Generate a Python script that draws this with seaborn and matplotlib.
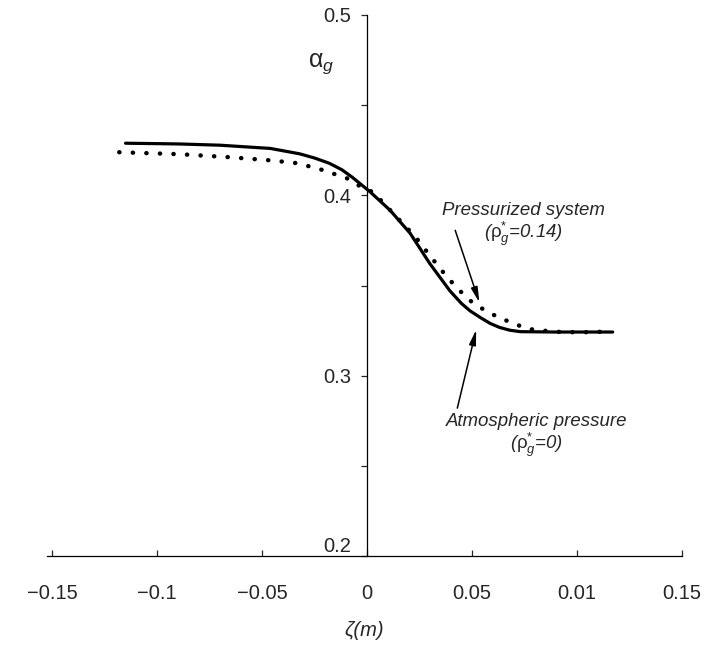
'''
Void fraction profile across the interface, atmospheric vs pressurized system.
'''

import numpy as np
import seaborn as sns
import matplotlib.pyplot as plt

# --- solid curve: atmospheric pressure
zeta_atm = [-0.115, -0.09, -0.07, -0.046, -0.032, -0.025, -0.018, -0.012, -0.007, 0.0014, 0.011,
            0.0205, 0.03, 0.0395, 0.045, 0.049, 0.054, 0.0586, 0.063, 0.068, 0.073, 0.09, 0.105, 0.117]
alpha_atm = [0.4289, 0.4285, 0.4278, 0.426, 0.423, 0.4207, 0.4178, 0.4142, 0.410, 0.402, 0.3917,
             0.379, 0.362, 0.347, 0.340, 0.336, 0.3322, 0.329, 0.3268, 0.3252, 0.3244, 0.3242, 0.3242, 0.3242]

# --- dotted curve: pressurized system
zeta_prs = [-0.118, -0.089, -0.065, -0.046, -0.033, -0.021, -0.0095, -0.0024, 0.003, 0.0157,
            0.023, 0.031, 0.0386, 0.0476, 0.052, 0.063, 0.07, 0.076, 0.0886, 0.101, 0.116]
alpha_prs = [0.4239, 0.4228, 0.4211, 0.4194, 0.4178, 0.414, 0.4094, 0.4044, 0.4017, 0.386,
             0.377, 0.365, 0.354, 0.343, 0.339, 0.332, 0.329, 0.326, 0.3244, 0.324, 0.3245]

x_ticks = [-0.15, -0.1, -0.05, 0, 0.05, 0.1, 0.15]
x_labels = ['\u22120.15', '\u22120.1', '\u22120.05', '0', '0.05', '0.01', '0.15']
y_ticks = [0.2, 0.25, 0.3, 0.35, 0.4, 0.45, 0.5]
y_labels = ['0.2', '', '0.3', '', '0.4', '', '0.5']

sns.set_style('white')
plt.rcParams['font.family'] = ['Liberation Sans', 'DejaVu Sans']
plt.rcParams['mathtext.fontset'] = 'custom'
plt.rcParams['mathtext.rm'] = 'Liberation Sans'
plt.rcParams['mathtext.it'] = 'Liberation Sans:italic'

fig = plt.figure(figsize=(7.07, 6.48), dpi=100)
ax = fig.add_axes([47 / 707, 92 / 648, 635 / 707, 541 / 648])

sns.lineplot(x=zeta_atm, y=alpha_atm, ax=ax, color='black', linewidth=2.3)
sns.lineplot(x=zeta_prs, y=alpha_prs, ax=ax, color='black', linewidth=3.2,
             linestyle=(0, (0.05, 3.0)), dash_capstyle='round')

ax.set_xlim(-0.1524, 0.15)
ax.set_ylim(0.2, 0.5)

# axes crossing at zeta = 0
ax.spines['left'].set_position(('data', 0))
ax.spines['top'].set_visible(False)
ax.spines['right'].set_visible(False)
for s in ['left', 'bottom']:
    ax.spines[s].set_linewidth(0.9)
    ax.spines[s].set_color('black')

ax.set_xticks(x_ticks)
ax.set_xticklabels(x_labels, fontsize=14.5)
ax.set_yticks(y_ticks)
ax.set_yticklabels(y_labels, fontsize=14.5)
ax.tick_params(axis='x', direction='in', length=4.5, width=0.9, pad=20, bottom=True)
ax.tick_params(axis='y', direction='out', length=4.5, width=0.9, pad=7, left=True)
for lab in ax.get_yticklabels():
    if lab.get_text() == '0.2':
        lab.set_va('bottom')

ax.set_xlabel('ζ(m)', fontsize=14.5, style='italic', labelpad=13)
ax.set_ylabel('')
ax.text(-0.022, 0.473, r'$\mathrm{\alpha}_{g}$', fontsize=18, ha='center', va='center')

# annotations
arrow = dict(arrowstyle='-|>,head_length=0.9,head_width=0.2', color='black', lw=1.1,
             shrinkA=0, shrinkB=0)
ax.annotate('', xy=(0.0535, 0.3406), xytext=(0.042, 0.3806), arrowprops=arrow)
ax.annotate('', xy=(0.052, 0.3255), xytext=(0.043, 0.282), arrowprops=arrow)

ax.text(0.0743, 0.3917, 'Pressurized system', fontsize=13.4, style='italic',
        ha='center', va='center')
ax.text(0.0743, 0.3785, r'($\mathrm{\rho}^{*}_{g}$=0.14)', fontsize=13.4, style='italic',
        ha='center', va='center')
ax.text(0.081, 0.2744, 'Atmospheric pressure', fontsize=13.4, style='italic',
        ha='center', va='center')
ax.text(0.0805, 0.2615, r'($\mathrm{\rho}^{*}_{g}$=0)', fontsize=13.4, style='italic',
        ha='center', va='center')

fig.savefig('out.png', dpi=100)
